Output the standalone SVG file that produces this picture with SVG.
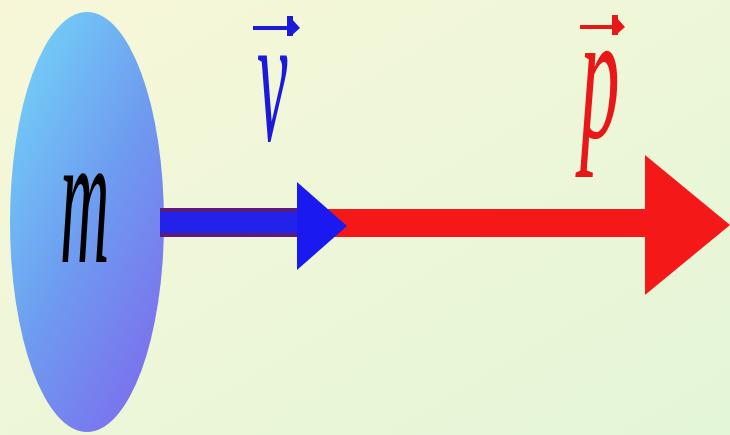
<svg xmlns="http://www.w3.org/2000/svg" width="730" height="435" viewBox="0 0 730 435">
<defs>
<linearGradient id="bg" x1="0" y1="0" x2="1" y2="1">
<stop offset="0" stop-color="#f7f7d8"/>
<stop offset="1" stop-color="#e4f6d8"/>
</linearGradient>
<linearGradient id="ball" x1="0.2" y1="0.1" x2="0.8" y2="0.9">
<stop offset="0" stop-color="#72c8f6"/>
<stop offset="0.5" stop-color="#6e9cf0"/>
<stop offset="1" stop-color="#7a74ee"/>
</linearGradient>
<style>
.lbl{font-family:"Liberation Serif","Times New Roman",serif;font-style:italic;font-size:180px}
</style>
</defs>
<rect width="730" height="435" fill="url(#bg)"/>
<g id="mass">
<ellipse cx="87" cy="222" rx="77" ry="210" fill="url(#ball)"/>
<text class="lbl" transform="translate(60,262) scale(0.38,1.05)" fill="#000">m</text>
</g>
<g id="connectors">
<g id="momentum">
<rect x="300" y="209" width="350" height="28" fill="#f41818"/>
<polygon points="645,155 730,225 645,295" fill="#f41818"/>
</g>
<g id="velocity">
<rect x="160" y="208" width="140" height="29" fill="#5a1a80"/>
<rect x="160" y="212" width="140" height="21" fill="#2222e8"/>
<polygon points="297,182 347,226 297,270" fill="#1a1af0"/>
</g>
</g>
<g id="label-v" fill="#1a1ad8">
<text class="lbl" transform="translate(257,140) scale(0.38,1.02)">v</text>
<rect x="253" y="26" width="40" height="4"/>
<rect x="287" y="16" width="6" height="20"/>
<polygon points="291,18 300,28 291,36"/>
</g>
<g id="label-p" fill="#e81818">
<text class="lbl" transform="translate(580,138) scale(0.44,1.02)">p</text>
<rect x="580" y="25" width="38" height="4"/>
<rect x="612" y="15" width="6" height="20"/>
<polygon points="616,17 625,27 616,35"/>
</g>
</svg>
